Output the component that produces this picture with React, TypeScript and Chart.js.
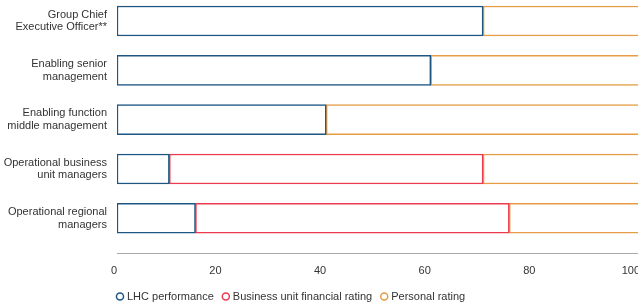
import React, { useEffect, useRef } from "react";
import { Chart, registerables } from "chart.js";

Chart.register(...registerables);

const categories: string[][] = [
  ["Group Chief", "Executive Officer**"],
  ["Enabling senior", "management"],
  ["Enabling function", "middle management"],
  ["Operational business", "unit managers"],
  ["Operational regional", "managers"],
];
const lhcPerformance: (number | null)[] = [70, 60, 40, 10, 15];
const businessUnitFinancial: (number | null)[] = [null, null, null, 60, 60];
const personalRating: (number | null)[] = [30, 40, 60, 30, 25];
const seriesNames = ["LHC performance", "Business unit financial rating", "Personal rating"];
const xTicks = [0, 20, 40, 60, 80, 100];

const BLUE = "#1d5583";
const RED = "#ec3b4e";
const ORANGE = "#e59c45";
const FONT = "'Liberation Sans', Arial, Helvetica, sans-serif";

export default function App() {
  const ref = useRef<HTMLCanvasElement | null>(null);

  useEffect(() => {
    document.body.style.margin = "0";
    const canvas = ref.current;
    if (!canvas) return;
    const toPoints = (arr: (number | null)[]) =>
      arr.map((v, i) => ({ x: v, y: i }));
    const mk = (label: string, data: (number | null)[], color: string) => ({
      label,
      data: toPoints(data),
      backgroundColor: "#ffffff",
      borderColor: color,
      borderWidth: 1.5,
      borderSkipped: false,
      barThickness: 30,
      pointStyle: "circle",
    });
    const legendShift = {
      id: "legendShift",
      afterLayout(chart: any) {
        if (chart.legend) {
          chart.legend.left = chart.chartArea.left - 9;
        }
      },
    };
    const chart = new Chart(canvas, {
      type: "bar",
      data: {
        datasets: [
          mk(seriesNames[0], lhcPerformance, BLUE),
          mk(seriesNames[1], businessUnitFinancial, RED),
          mk(seriesNames[2], personalRating, ORANGE),
        ] as any,
      },
      options: {
        indexAxis: "y",
        responsive: false,
        animation: false,
        events: [],
        layout: { padding: { top: 0, bottom: 2, left: 0, right: 0 } },
        font: { family: FONT, size: 11 },
        scales: {
          x: {
            type: "linear",
            stacked: true,
            offset: false,
            min: xTicks[0],
            max: xTicks[xTicks.length - 1],
            grid: { display: false, drawTicks: false },
            border: { display: true, color: "#a8a8a8", width: 1 },
            afterBuildTicks: (s: any) => {
              s.ticks = xTicks.map((v) => ({ value: v }));
            },
            afterFit: (s: any) => {
              s.height = s.height - 8;
              s.paddingLeft = 0;
              s.paddingRight = 0;
            },
            ticks: {
              color: "#333333",
              padding: 11,
              align: "end",
              maxRotation: 0,
              font: { family: FONT, size: 11 },
            },
          },
          y: {
            type: "linear",
            stacked: true,
            offset: false,
            reverse: true,
            min: -0.426,
            max: 4.71,
            grid: { display: false, drawTicks: false, offset: false },
            border: { display: false },
            afterFit: (s: any) => {
              s.width = 117;
              s.paddingTop = 0;
              s.paddingBottom = 0;
            },
            ticks: {
              stepSize: 1,
              includeBounds: false,
              autoSkip: false,
              color: "#333333",
              padding: 10,
              font: { family: FONT, size: 11, lineHeight: 1.15 },
              callback: (v: any) => {
                const i = Number(v);
                return Number.isInteger(i) && categories[i] ? categories[i] : "";
              },
            },
          },
        },
        plugins: {
          tooltip: { enabled: false },
          legend: {
            position: "bottom",
            align: "start",
            labels: {
              usePointStyle: true,
              boxWidth: 3,
              boxHeight: 5,
              padding: 10.5,
              color: "#333333",
              font: { family: FONT, size: 11 },
            },
          },
        },
      } as any,
      plugins: [legendShift],
    });
    return () => chart.destroy();
  }, []);

  return (
    <div style={{ position: "relative", width: 638, height: 305, overflow: "hidden" }}>
      <canvas ref={ref} width={640} height={314} style={{ display: "block" }} />
    </div>
  );
}
